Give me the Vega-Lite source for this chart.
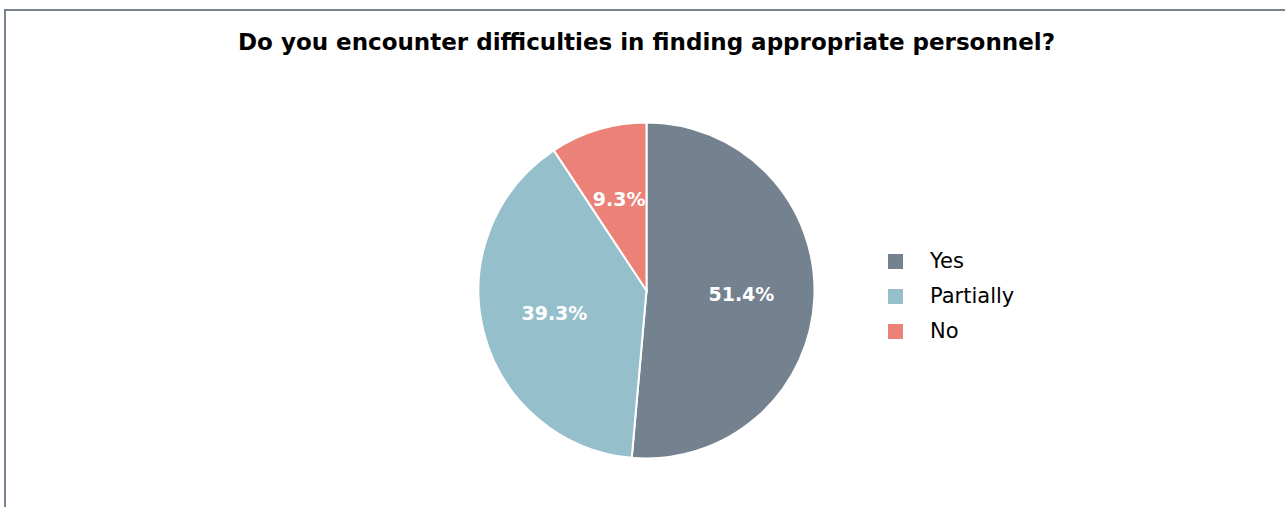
{
  "$schema": "https://vega.github.io/schema/vega-lite/v6.json",
  "autosize": "none",
  "padding": {"left": 5, "top": 10, "right": 0, "bottom": 0},
  "width": 1283,
  "height": 561,
  "background": "white",
  "view": {"stroke": "#778391", "strokeWidth": 2, "fill": "white"},
  "config": {
    "font": "DejaVu Sans",
    "title": {"font": "DejaVu Sans"}
  },
  "title": {
    "text": "Do you encounter difficulties in finding appropriate personnel?",
    "fontSize": 23,
    "fontWeight": "bold",
    "color": "#000000",
    "anchor": "middle",
    "baseline": "alphabetic",
    "offset": -63
  },
  "data": {
    "values": [
      {"answer": "Yes", "share": 0.514, "idx": 1},
      {"answer": "Partially", "share": 0.393, "idx": 2},
      {"answer": "No", "share": 0.093, "idx": 3}
    ]
  },
  "encoding": {
    "theta": {"field": "share", "type": "quantitative", "stack": true},
    "order": {"field": "idx", "type": "quantitative"},
    "color": {
      "field": "answer",
      "type": "nominal",
      "sort": ["Yes", "Partially", "No"],
      "scale": {"domain": ["Yes", "Partially", "No"], "range": ["#74828f", "#96bfcc", "#eb8177"]},
      "legend": {
        "title": null,
        "orient": "none",
        "legendX": 880,
        "legendY": 241,
        "padding": 0,
        "symbolType": "square",
        "symbolSize": 225,
        "symbolStrokeWidth": 0,
        "symbolOpacity": 1,
        "labelFont": "DejaVu Sans",
        "labelFontSize": 21,
        "labelColor": "#000000",
        "labelOffset": 24,
        "rowPadding": 13
      }
    }
  },
  "layer": [
    {
      "mark": {"type": "arc", "outerRadius": 168, "stroke": "white", "strokeWidth": 2}
    },
    {
      "mark": {"type": "text", "radius": 95, "fontSize": 19, "fontWeight": "bold", "color": "white", "font": "DejaVu Sans"},
      "encoding": {
        "text": {"field": "share", "type": "quantitative", "format": ".1%"},
        "color": {"value": "white"}
      }
    }
  ]
}
